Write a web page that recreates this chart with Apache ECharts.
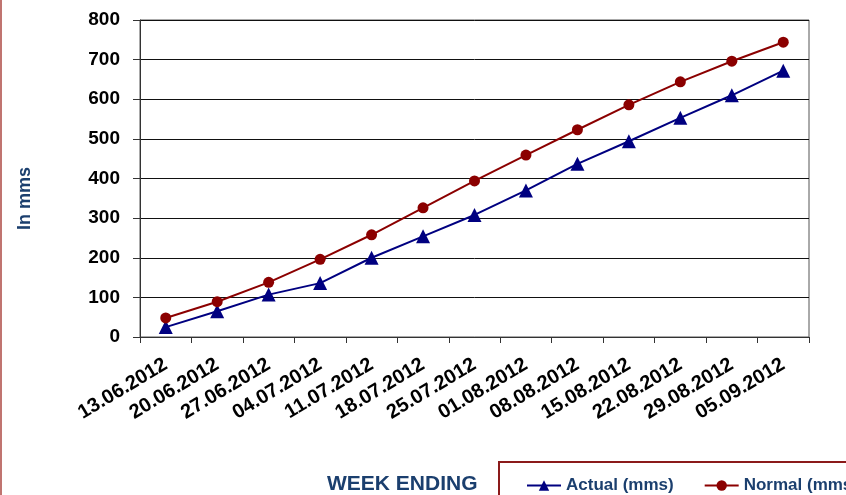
<!DOCTYPE html>
<html>
<head>
<meta charset="utf-8">
<script src="https://cdn.jsdelivr.net/npm/echarts@6/dist/echarts.min.js"></script>
<style>html,body{margin:0;padding:0;background:#fff}#c{width:846px;height:495px}</style>
</head>
<body>
<div id="c"></div>
<script>
var categories = ['13.06.2012','20.06.2012','27.06.2012','04.07.2012','11.07.2012','18.07.2012','25.07.2012','01.08.2012','08.08.2012','15.08.2012','22.08.2012','29.08.2012','05.09.2012'];
var actual = [25, 65, 107, 136, 200, 254, 308, 370, 437, 494, 553, 610, 672];
var normal = [48, 89, 138, 196, 258, 326, 394, 459, 523, 586, 644, 696, 744];
var yTicks = {min: 0, max: 800, interval: 100};
var seriesNames = ['Actual (mms)', 'Normal (mms)'];

var chart = echarts.init(document.getElementById('c'));
var font = 'Liberation Sans, Arial, sans-serif';
chart.setOption({
  animation: false,
  backgroundColor: '#fff',
  grid: {left: 140, right: 37, top: 20, bottom: 158, show: true, borderColor: '#555', borderWidth: 1, backgroundColor: 'transparent'},
  xAxis: {
    type: 'category',
    data: categories,
    boundaryGap: true,
    axisLine: {lineStyle: {color: '#333', width: 1}},
    axisTick: {show: true, length: 6, lineStyle: {color: '#333'}},
    axisLabel: {rotate: 31, margin: 26, color: '#000', fontWeight: 'bold', fontSize: 20, fontFamily: font, interval: 0},
    splitLine: {show: false}
  },
  yAxis: {
    type: 'value',
    min: yTicks.min, max: yTicks.max, interval: yTicks.interval,
    axisLine: {show: true, lineStyle: {color: '#333', width: 1}},
    axisTick: {show: true, length: 7, lineStyle: {color: '#333'}},
    axisLabel: {color: '#000', fontWeight: 'bold', fontSize: 19, fontFamily: font, margin: 20},
    splitLine: {show: true, lineStyle: {color: '#111', width: 1}}
  },
  legend: {
    data: seriesNames,
    left: 499, top: 462, width: 600,
    orient: 'horizontal',
    padding: [15, 30, 20, 27],
    borderColor: '#8b1a1a', borderWidth: 2,
    itemWidth: 34, itemHeight: 13, itemGap: 30,
    textStyle: {color: '#1b3f6e', fontWeight: 'bold', fontSize: 17, fontFamily: font}
  },
  graphic: [
    {type: 'line', shape: {x1: 1, y1: 0, x2: 1, y2: 495}, style: {stroke: '#c07470', lineWidth: 2}},
    {type: 'text', left: 327, top: 474, style: {text: 'WEEK ENDING', fill: '#1b3f6e', font: 'bold 21px ' + font}},
    {type: 'text', x: 16, y: 230, rotation: Math.PI / 2, style: {text: 'In mms', fill: '#1b3f6e', font: 'bold 18px ' + font}}
  ],
  series: [
    {name: seriesNames[0], type: 'line', data: actual, symbol: 'triangle', symbolSize: 14,
      lineStyle: {color: '#000080', width: 2}, itemStyle: {color: '#000080'}},
    {name: seriesNames[1], type: 'line', data: normal, symbol: 'circle', symbolSize: 11,
      lineStyle: {color: '#8b0000', width: 2}, itemStyle: {color: '#8b0000'}}
  ]
});
</script>
</body>
</html>
